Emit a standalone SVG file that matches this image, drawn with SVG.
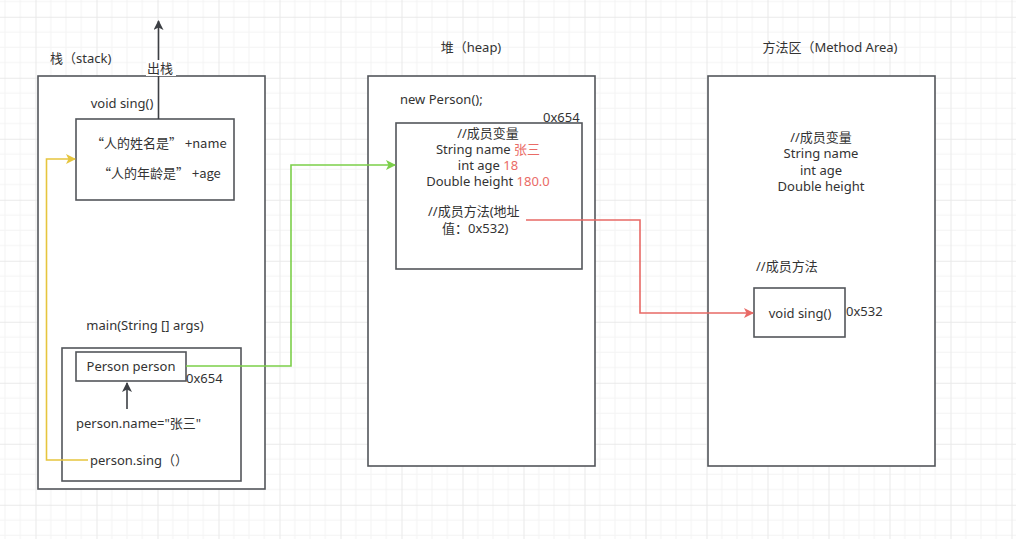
<svg xmlns="http://www.w3.org/2000/svg" width="1016" height="539" viewBox="0 0 1016 539">
<defs>
<pattern id="grid" x="35.5" y="16.75" width="61" height="61" patternUnits="userSpaceOnUse">
<path d="M15.25 0V61M30.5 0V61M45.75 0V61M0 15.25H61M0 30.5H61M0 45.75H61" stroke="#f3f3f3" stroke-width="1" fill="none"/>
<path d="M0.5 0V61M0 0.5H61" stroke="#e9e9e9" stroke-width="1" fill="none"/>
</pattern>
<marker id="ah-dark" viewBox="0 0 10 10" refX="9" refY="5" markerWidth="10" markerHeight="10" markerUnits="userSpaceOnUse" orient="auto"><path d="M0 0L10 5L0 10L2.5 5Z" fill="#3c3f44"/></marker>
<marker id="ah-yellow" viewBox="0 0 10 10" refX="9" refY="5" markerWidth="10" markerHeight="10" markerUnits="userSpaceOnUse" orient="auto"><path d="M0 0L10 5L0 10L2.5 5Z" fill="#e6c53e"/></marker>
<marker id="ah-green" viewBox="0 0 10 10" refX="9" refY="5" markerWidth="10" markerHeight="10" markerUnits="userSpaceOnUse" orient="auto"><path d="M0 0L10 5L0 10L2.5 5Z" fill="#7ccf4a"/></marker>
<marker id="ah-red" viewBox="0 0 10 10" refX="9" refY="5" markerWidth="10" markerHeight="10" markerUnits="userSpaceOnUse" orient="auto"><path d="M0 0L10 5L0 10L2.5 5Z" fill="#e86a66"/></marker>
</defs>
<style>
.box{fill:#ffffff;stroke:#53565b;stroke-width:1.6}
text{font-family:"Noto Sans","Noto Sans CJK SC",sans-serif;font-size:13px;fill:#333333}
.cjk{font-family:"Noto Sans CJK SC",sans-serif}
.c{text-anchor:middle}
.r{fill:#ea6b66}
.conn{fill:none;stroke-width:1.6}
</style>
<rect width="1016" height="539" fill="#ffffff"/>
<rect width="1016" height="539" fill="url(#grid)"/>

<g id="stack">
<rect class="box" x="38" y="76" width="227" height="413"/>
<text x="50" y="63">栈（stack)</text>
</g>
<g id="heap">
<rect class="box" x="368" y="76" width="227" height="390"/>
<text class="c" x="471" y="52">堆（heap)</text>
<text x="400" y="104">new Person();</text>
</g>
<g id="method-area">
<rect class="box" x="708" y="76" width="227" height="390"/>
<text class="c" x="830" y="52">方法区（Method Area)</text>
<text class="c" x="821" y="142">//成员变量</text>
<text class="c" x="821" y="158">String name</text>
<text class="c" x="821" y="175">int age</text>
<text class="c" x="821" y="191">Double height</text>
<text x="756" y="271">//成员方法</text>
</g>
<g id="sing-frame">
<text class="c" x="122" y="108">void sing()</text>
<rect class="box" x="76" y="119" width="158" height="81"/>
<text class="cjk" x="91" y="148">“人的姓名是” +name</text>
<text class="cjk" x="98" y="178">“人的年龄是” +age</text>
</g>
<g id="main-frame">
<text class="c" x="145" y="330">main(String [] args)</text>
<rect class="box" x="62" y="348" width="179" height="133"/>
<text x="76" y="428">person.name="张三"</text>
<text x="90" y="465">person.sing（）</text>
</g>
<g id="person-var">
<rect class="box" x="76" y="352" width="110" height="29"/>
<text class="c" x="131" y="371">Person person</text>
<text x="186" y="383">0x654</text>
</g>
<g id="person-object">
<text x="543" y="122">0x654</text>
<rect class="box" x="396" y="123" width="186" height="146"/>
<text class="c" x="488" y="138">//成员变量</text>
<text class="c" x="488" y="154">String name <tspan class="r">张三</tspan></text>
<text class="c" x="488" y="170">int age <tspan class="r">18</tspan></text>
<text class="c" x="488" y="186">Double height <tspan class="r">180.0</tspan></text>
<text x="428" y="216">//成员方法(地址</text>
<text x="442" y="233">值：0x532)</text>
</g>
<g id="sing-method">
<rect class="box" x="754" y="288" width="91" height="49"/>
<text class="c" x="800" y="318">void sing()</text>
<text x="846" y="316">0x532</text>
</g>

<g id="connectors">
<path class="conn" d="M158.5 119V21" stroke="#3c3f44" marker-end="url(#ah-dark)"/>
<rect x="146" y="60" width="30" height="16" fill="#ffffff"/>
<text x="147" y="73">出栈</text>
<path class="conn" d="M127 409V383" stroke="#3c3f44" marker-end="url(#ah-dark)"/>
<path class="conn" d="M88 460H46.5V159H75" stroke="#e6c53e" marker-end="url(#ah-yellow)"/>
<path class="conn" d="M186 366H291V165H395" stroke="#7ccf4a" marker-end="url(#ah-green)"/>
<path class="conn" d="M526 220H640V313H753" stroke="#e86a66" marker-end="url(#ah-red)"/>
</g>
</svg>
